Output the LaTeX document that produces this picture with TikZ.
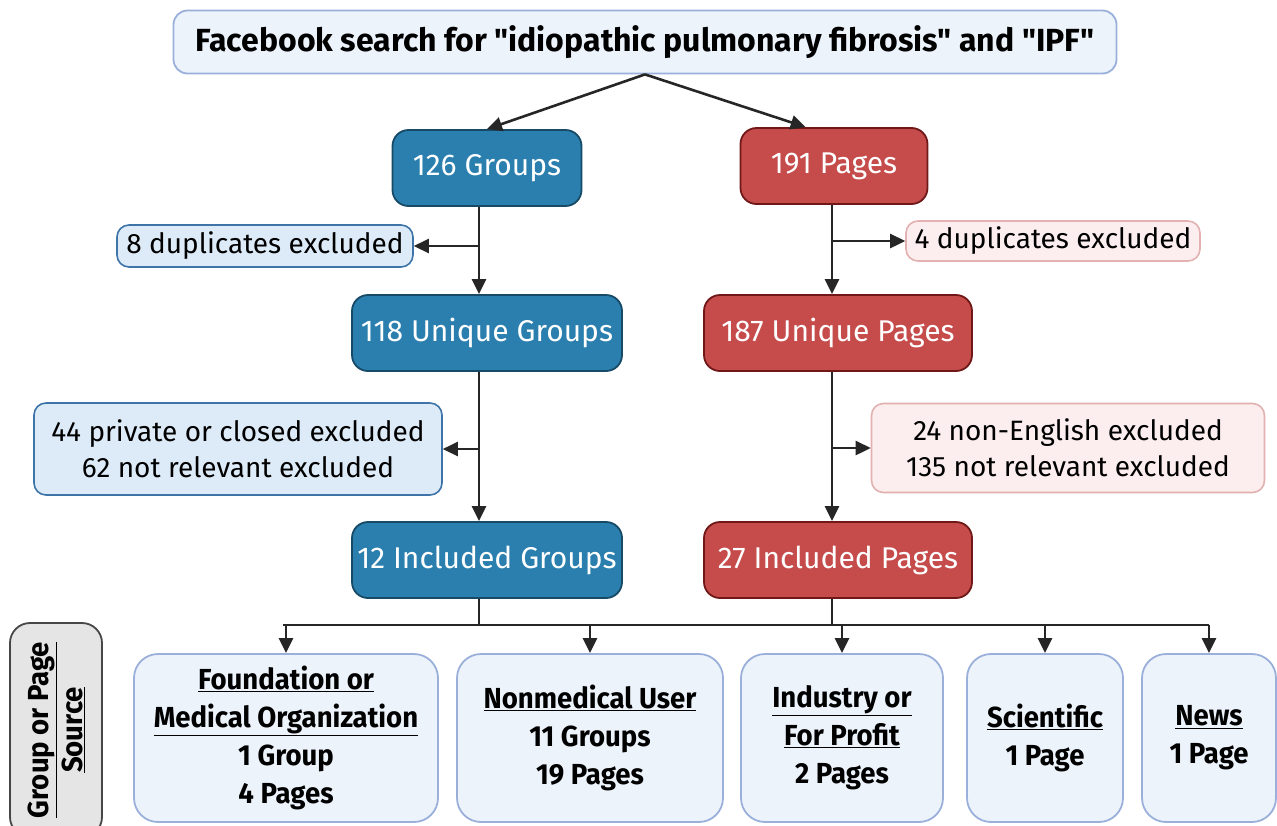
\documentclass[tikz,border=0pt]{standalone}
\usepackage{fontspec}
\setmainfont{Fira Sans}[Ligatures=TeXOff]
\newfontfamily\condfont{Fira Sans}[FakeStretch=0.95, Ligatures=TeXOff]
\usepackage{xcolor}
\usetikzlibrary{arrows.meta, positioning, calc}

\definecolor{grpblue}{HTML}{2B7FAE}
\definecolor{grpedge}{HTML}{174A66}
\definecolor{pgred}{HTML}{C64B4B}
\definecolor{pgedge}{HTML}{701818}
\definecolor{exgfill}{HTML}{DDEBF8}
\definecolor{exgedge}{HTML}{3E74A8}
\definecolor{expfill}{HTML}{FCEEEE}
\definecolor{expedge}{HTML}{E3B1B1}
\definecolor{srcfill}{HTML}{EDF3FB}
\definecolor{srcedge}{HTML}{9AB0DA}
\definecolor{arrgray}{HTML}{262626}

\begin{document}
\begin{tikzpicture}[x=1pt, y=-1pt,
  grp/.style={rectangle, rounded corners=16pt, draw=grpedge, line width=1.8pt,
              fill=grpblue, text=white, minimum height=76pt, inner sep=0pt,
              font=\fontsize{30}{34}\selectfont},
  pg/.style={grp, draw=pgedge, fill=pgred},
  exgrp/.style={rectangle, rounded corners=12pt, draw=exgedge, line width=1.6pt,
                fill=exgfill, align=center, inner sep=0pt,
                font=\fontsize{28}{36}\selectfont},
  expg/.style={exgrp, draw=expedge, fill=expfill},
  src/.style={rectangle, rounded corners=24pt, draw=srcedge, line width=1.8pt,
              fill=srcfill, align=center, inner sep=0pt, minimum height=168pt,
              font=\condfont\bfseries\fontsize{29}{38}\selectfont},
  arr/.style={-{Triangle[length=15pt, width=14pt]}, line width=2.6pt, draw=arrgray}
]
\useasboundingbox (0,0) rectangle (1277,825);
\node[rectangle, rounded corners=14pt, draw=srcedge, line width=1.8pt, fill=srcfill,
      minimum width=943pt, minimum height=63pt, inner sep=0pt,
      font=\bfseries\fontsize{32}{36}\selectfont]
  (search) at (645,42) {Facebook search for "idiopathic pulmonary fibrosis" and "IPF"};

\node[grp, minimum width=189pt] (grp1) at (487,168) {126 Groups};
\node[pg, minimum width=187pt] (pg1) at (834,166) {191 Pages};
\node[exgrp, minimum width=296pt, minimum height=42pt] (exg1) at (265,246) {8 duplicates excluded};
\node[expg, minimum width=294pt, minimum height=40pt] (exp1) at (1053,241) {4 duplicates excluded};
\node[grp, minimum width=270pt] (grp2) at (487,333) {118 Unique Groups};
\node[pg, minimum width=268pt] (pg2) at (838,333) {187 Unique Pages};
\node[exgrp, minimum width=408pt, minimum height=92pt] (exg2) at (238,449)
  {44 private or closed excluded\\62 not relevant excluded};
\node[expg, minimum width=393pt, minimum height=89pt] (exp2) at (1068,448)
  {24 non-English excluded\\135 not relevant excluded};
\node[grp, minimum width=270pt] (grp3) at (487,560) {12 Included Groups};
\node[pg, minimum width=268pt] (pg3) at (838,560) {27 Included Pages};

\node[src, minimum width=304pt] (src1) at (286,738)
  {\underline{Foundation or}\\\underline{Medical Organization}\\1 Group\\4 Pages};
\node[src, minimum width=266pt] (src2) at (590,738)
  {\underline{Nonmedical User}\\11 Groups\\19 Pages};
\node[src, minimum width=202pt] (src3) at (842,738)
  {\underline{Industry or}\\\underline{For Profit}\\2 Pages};
\node[src, minimum width=156pt] (src4) at (1045,738) {\underline{Scientific}\\1 Page};
\node[src, minimum width=134pt] (src5) at (1209,738) {\underline{News}\\1 Page};
\node[rectangle, rounded corners=20pt, draw=arrgray!85, line width=1.8pt, fill=black!10,
      rotate=90, minimum width=214pt, minimum height=92pt, inner sep=0pt, align=center,
      font=\condfont\bfseries\fontsize{29}{34}\selectfont]
  (side) at (56,730) {\underline{Group or Page}\\\underline{Source}};

\coordinate (gx) at (479,0);
\coordinate (px) at (832,0);
\coordinate (bar) at (0,625);

\draw[arr] (search.south) -- (grp1.north);
\draw[arr] (search.south) -- ($(pg1.north)!0.3!(pg1.north west)$);
\draw[arr] (grp1.south -| gx) -- (grp2.north -| gx);
\draw[arr] (grp2.south -| gx) -- (grp3.north -| gx);
\draw[arr] (pg1.south -| px) -- (pg2.north -| px);
\draw[arr] (pg2.south -| px) -- (pg3.north -| px);
\draw[arr] (gx |- exg1.east) -- (exg1.east);
\draw[arr] (gx |- exg2.east) -- (exg2.east);
\draw[arr] (px |- exp1.west) -- (exp1.west);
\draw[arr] (px |- exp2.west) -- (exp2.west);
\draw[line width=2.6pt, arrgray] (grp3.south -| gx) -- (gx |- bar);
\draw[line width=2.6pt, arrgray] (pg3.south -| px) -- (px |- bar);
\draw[line width=2.6pt, arrgray] ($(src1.north |- bar)+(-3,0)$) -- (src5.north |- bar);
\foreach \s in {1,...,5}{
  \draw[arr] (src\s.north |- bar) -- (src\s.north);
}
\end{tikzpicture}
\end{document}
